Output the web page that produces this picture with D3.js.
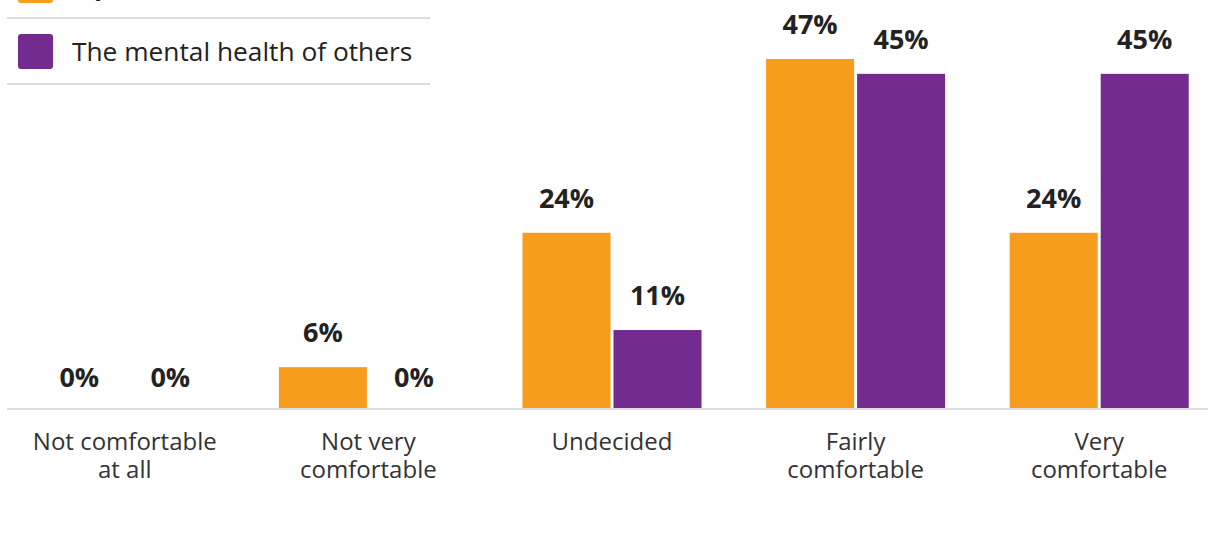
<!DOCTYPE html>
<html>
<head>
<meta charset="utf-8">
<script src="https://cdn.jsdelivr.net/npm/d3@7"></script>
<style>
  body { margin: 0; background: #fff; }
  svg { display: block; font-family: "Open Sans", sans-serif; }
</style>
</head>
<body>
<div id="chart"></div>
<script>
// categories and series
const categories = [
  ["Not comfortable", "at all"],
  ["Not very", "comfortable"],
  ["Undecided"],
  ["Fairly", "comfortable"],
  ["Very", "comfortable"]
];
const seriesNames = ["My own mental health", "The mental health of others"];
const ownValues = [0, 5.5, 23.6, 47, 23.6];
const othersValues = [0, 0, 10.5, 45, 45];
const colors = ["#f89c1e", "#732b8f"];

const width = 1208;
const height = 535;
const baseY = 408;

const svg = d3.select("#chart")
  .append("svg")
  .attr("width", width)
  .attr("height", height);

const catKeys = categories.map(c => c.join(" "));

const x0 = d3.scaleBand()
  .domain(catKeys)
  .range([3, 1221])
  .paddingInner(0.265)
  .paddingOuter(0.1325);

const x1 = d3.scaleBand()
  .domain(seriesNames)
  .range([0, x0.bandwidth()])
  .paddingInner(0.033);

const y = d3.scaleLinear()
  .domain([0, 47])
  .range([baseY, 59]);

const rows = catKeys.map((k, i) => ({
  key: k,
  vals: [ownValues[i], othersValues[i]]
}));

// baseline
svg.append("line")
  .attr("x1", 7)
  .attr("x2", width)
  .attr("y1", baseY + 1)
  .attr("y2", baseY + 1)
  .attr("stroke", "#dddddd")
  .attr("stroke-width", 2);

const groups = svg.selectAll(".grp")
  .data(rows)
  .enter()
  .append("g")
  .attr("class", "grp")
  .attr("transform", d => `translate(${x0(d.key)},0)`);

groups.selectAll("rect")
  .data(d => d.vals.map((v, j) => ({ v, s: seriesNames[j], j })))
  .enter()
  .append("rect")
  .attr("x", d => x1(d.s))
  .attr("width", x1.bandwidth())
  .attr("y", d => y(d.v))
  .attr("height", d => baseY - y(d.v))
  .attr("fill", d => colors[d.j]);

groups.selectAll(".val")
  .data(d => d.vals.map((v, j) => ({ v, s: seriesNames[j], j })))
  .enter()
  .append("text")
  .attr("class", "val")
  .attr("x", d => x1(d.s) + x1.bandwidth() / 2)
  .attr("y", d => y(d.v) - (d.v === 0 ? 21 : 25))
  .attr("text-anchor", "middle")
  .attr("font-size", 27)
  .attr("font-weight", 700)
  .attr("fill", "#222")
  .text(d => Math.round(d.v) + "%");

// category labels
groups.append("text")
  .attr("text-anchor", "middle")
  .attr("font-size", 24)
  .attr("fill", "#333")
  .selectAll("tspan")
  .data((d, i) => categories[i])
  .enter()
  .append("tspan")
  .attr("x", x0.bandwidth() / 2)
  .attr("y", (d, i) => 450 + i * 28)
  .text(d => d);

// legend (top is cut off in the original)
const legend = svg.append("g");
seriesNames.forEach((name, i) => {
  const cy = -15 + i * 66;
  legend.append("rect")
    .attr("x", 18)
    .attr("y", cy - 17)
    .attr("width", 35)
    .attr("height", 35)
    .attr("rx", 3)
    .attr("fill", colors[i]);
  legend.append("text")
    .attr("x", 72)
    .attr("y", cy + 10)
    .attr("font-size", 26.3)
    .attr("fill", "#222")
    .text(name);
  legend.append("line")
    .attr("x1", 7)
    .attr("x2", 430)
    .attr("y1", cy + 33)
    .attr("y2", cy + 33)
    .attr("stroke", "#dddddd")
    .attr("stroke-width", 2);
});
</script>
</body>
</html>
